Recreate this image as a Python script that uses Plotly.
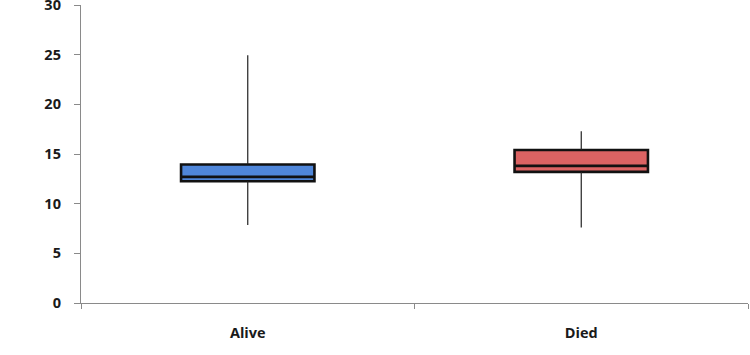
import plotly.graph_objects as go

categories = ["Alive", "Died"]
minimum = [7.85, 7.6]
q1 = [12.25, 13.2]
median = [12.7, 13.8]
q3 = [13.95, 15.4]
maximum = [24.95, 17.3]
fill_colors = ["#4F86D9", "#DB6363"]
y_ticks = [0, 5, 10, 15, 20, 25, 30]

fig = go.Figure()

# whiskers as thin lines outside the box: min->q1 and q3->max
wx, wy = [], []
for c, lo, a, b, hi in zip(categories, minimum, q1, q3, maximum):
    wx += [c, c, None, c, c, None]
    wy += [lo, a, None, b, hi, None]
fig.add_trace(go.Scatter(x=wx, y=wy, mode="lines",
                         line=dict(color="#222222", width=1.2),
                         showlegend=False, hoverinfo="skip"))

for c, a, m, b, col in zip(categories, q1, median, q3, fill_colors):
    fig.add_trace(go.Box(
        x=[c], q1=[a], median=[m], q3=[b], lowerfence=[a], upperfence=[b],
        fillcolor=col, line=dict(color="#111111", width=2.6),
        whiskerwidth=0, width=0.4, showlegend=False, boxpoints=False,
    ))

tick_font = dict(family="Open Sans", size=14.5, color="#1a1a1a", weight="bold")

fig.update_layout(
    width=750, height=355,
    margin=dict(l=81, r=2, t=5, b=52),
    paper_bgcolor="white", plot_bgcolor="white",
    boxmode="overlay",
    font=dict(family="Open Sans", size=14.5, color="#1a1a1a"),
)
fig.update_xaxes(
    type="category", categoryorder="array", categoryarray=categories,
    range=[-0.5, 1.5], showgrid=False, zeroline=False, automargin=False,
    showline=True, linecolor="#8a8a8a", linewidth=1.3,
    ticks="outside", tickson="boundaries", ticklen=5, tickcolor="#8a8a8a",
    tickfont=tick_font, ticklabelstandoff=16,
)
fig.update_yaxes(
    range=[0, 30], tickvals=y_ticks, ticktext=[str(v) for v in y_ticks],
    showgrid=False, zeroline=False, automargin=False,
    showline=True, linecolor="#8a8a8a", linewidth=1.3,
    ticks="outside", ticklen=6, tickcolor="#8a8a8a",
    tickfont=tick_font, ticklabelstandoff=10, ticklabeloverflow="allow",
)

fig.write_html("out.html",
               config={"displayModeBar": False},
               post_script="document.body.style.margin='0';")
